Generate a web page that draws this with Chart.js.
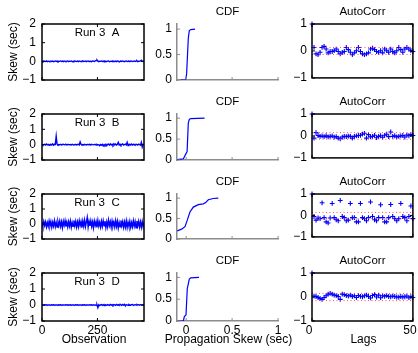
<!DOCTYPE html>
<html lang="en">
<head>
<meta charset="UTF-8">
<title>Run 3 propagation skew</title>
<script src="https://cdn.jsdelivr.net/npm/chart.js@4.4.0/dist/chart.umd.min.js"></script>
<style>
  body { margin: 0; background: #fff; }
  #fig { position: relative; width: 418px; height: 353px; overflow: hidden; }
  #fig canvas { position: absolute; }
</style>
</head>
<body>
<div id="fig"></div>
<script>
// ---- data ----
const runLabels = ['Run 3  A', 'Run 3  B', 'Run 3  C', 'Run 3  D'];

// observation numbers (every 4th sample shown)
const observations = Array.from({ length: 116 }, (_, i) => i * 4);
const obsMax = 460;

const skewA = [
  0.01,-0.02,0.02,0.00,-0.01,0.02,-0.02,0.01,0.00,-0.01,
  0.02,-0.01,0.01,-0.02,0.00,0.02,-0.01,0.01,-0.02,0.01,
  0.00,0.02,-0.01,0.01,-0.02,0.02,0.00,-0.01,0.01,0.02,
  -0.02,0.01,0.00,0.02,-0.01,-0.02,0.01,0.02,0.00,-0.01,
  0.01,-0.02,0.02,0.00,-0.01,0.01,0.03,-0.01,0.00,0.02,
  -0.02,0.01,0.02,-0.01,0.00,0.01,-0.02,0.02,0.01,-0.01,
  0.02,0.04,0.07,0.01,-0.02,0.01,0.00,0.02,-0.01,0.01,
  -0.02,0.02,0.00,-0.01,0.01,0.02,-0.02,0.00,0.01,-0.01,
  0.02,0.00,-0.01,0.01,-0.02,0.02,0.01,-0.03,0.00,0.01,
  -0.01,0.02,0.00,-0.02,0.01,0.02,-0.01,0.00,0.01,-0.02,
  0.02,0.01,-0.01,0.00,0.02,-0.01,0.01,0.03,-0.02,0.01,
  0.00,0.02,0.06,0.01,-0.01,0.02
];
const skewB = [
  0.02,-0.03,0.01,0.03,-0.02,0.04,-0.01,0.02,-0.04,0.01,
  0.03,-0.02,0.05,-0.03,0.02,0.01,0.55,0.03,-0.02,0.01,
  -0.01,0.02,-0.02,0.01,0.03,-0.01,0.00,0.02,-0.02,0.01,
  0.02,-0.01,0.01,-0.02,0.02,0.00,-0.01,0.02,0.01,-0.02,
  0.01,0.03,-0.02,0.18,0.02,-0.01,0.01,-0.03,0.02,0.00,
  -0.02,0.01,0.02,-0.01,0.01,-0.02,0.02,0.00,-0.01,0.02,
  0.01,-0.03,0.02,-0.01,0.00,-0.06,0.01,-0.04,0.02,-0.08,
  0.01,-0.05,0.03,-0.07,0.02,0.04,-0.03,0.05,-0.02,0.03,
  -0.04,0.06,-0.02,0.04,-0.03,0.02,0.15,-0.02,0.03,-0.04,
  0.02,0.05,-0.03,0.01,0.04,-0.02,0.15,-0.05,0.02,0.03,
  -0.02,0.04,-0.03,0.02,0.01,-0.04,0.03,0.02,-0.02,0.04,
  0.01,-0.03,0.15,-0.15,0.02,0.01
];
const skewC = [
  0.12,-0.15,0.18,-0.10,0.14,-0.20,0.10,-0.16,0.20,-0.12,
  0.16,-0.22,0.12,-0.14,0.22,-0.18,0.10,-0.20,0.15,-0.12,
  0.20,-0.16,0.14,-0.24,0.18,-0.10,0.22,-0.18,0.12,-0.20,
  0.16,-0.14,0.20,-0.22,0.10,-0.16,0.24,-0.12,0.18,-0.20,
  0.14,-0.18,0.22,-0.10,0.16,-0.24,0.20,-0.14,0.25,-0.18,
  0.12,0.43,-0.20,0.18,-0.12,0.22,-0.16,0.14,-0.26,0.20,
  -0.10,0.16,-0.22,0.24,-0.14,0.12,-0.20,0.18,-0.16,0.22,
  -0.12,0.20,-0.24,0.14,-0.18,0.26,-0.10,0.16,-0.22,0.20,
  -0.14,0.12,-0.20,0.22,-0.16,0.18,-0.26,0.10,-0.18,0.24,
  -0.12,0.16,-0.22,0.14,-0.20,0.20,-0.24,0.12,-0.16,0.18,
  -0.22,0.10,-0.18,0.22,-0.14,0.16,-0.26,0.20,-0.12,0.18,
  -0.20,0.14,-0.22,0.16,-0.18,0.12
];
const skewD = [
  0.01,0.00,-0.01,0.01,0.00,0.01,-0.01,0.00,0.01,0.00,
  -0.01,0.01,0.00,0.01,-0.01,0.00,0.01,0.00,-0.01,0.01,
  0.00,0.01,-0.01,0.00,0.01,0.00,-0.01,0.01,0.00,0.01,
  -0.01,0.00,0.01,-0.01,0.00,0.01,0.00,-0.01,0.01,0.00,
  0.01,-0.01,0.00,0.01,0.00,-0.01,0.01,0.00,0.01,-0.01,
  0.00,0.01,0.00,-0.01,0.01,0.00,0.01,-0.01,0.00,0.01,
  0.00,-0.02,0.01,-0.16,0.02,-0.03,0.01,0.03,-0.02,0.02,
  -0.03,0.02,0.01,-0.02,0.03,0.00,-0.02,0.04,-0.01,0.02,
  -0.03,0.03,0.01,-0.02,0.04,-0.01,0.02,-0.03,0.05,0.00,
  -0.02,0.03,-0.01,0.04,-0.06,0.02,0.01,-0.02,0.03,0.00,
  -0.01,0.02,0.03,-0.02,0.01,0.02,-0.01,0.03,0.00,0.02,
  -0.01,0.02,0.01,-0.02,0.01,0.00
];
const skewRuns = [skewA, skewB, skewC, skewD];

// empirical CDF of the skew (x = skew in sec, y = probability)
const cdfSkewA = [-0.06, -0.005, 0.005, 0.023, 0.034, 0.05, 0.096];
const cdfProbA = [0, 0, 0.13, 0.82, 0.97, 0.99, 1.0];
const cdfSkewB = [-0.1, -0.03, -0.005, 0.01, 0.023, 0.034, 0.05, 0.2];
const cdfProbB = [0.01, 0.03, 0.14, 0.2, 0.88, 0.97, 0.99, 1.0];
const cdfSkewC = [-0.097, -0.05, -0.013, 0.012, 0.041, 0.078, 0.132, 0.187, 0.212, 0.241, 0.296, 0.35];
const cdfProbC = [0.2, 0.24, 0.3, 0.46, 0.66, 0.78, 0.84, 0.86, 0.89, 0.96, 0.99, 1.0];
const cdfSkewD = [-0.097, -0.031, -0.02, -0.002, 0.012, 0.023, 0.034, 0.05, 0.14];
const cdfProbD = [0, 0, 0.1, 0.14, 0.74, 0.85, 0.96, 0.99, 1.0];
const cdfSkews = [cdfSkewA, cdfSkewB, cdfSkewC, cdfSkewD];
const cdfProbs = [cdfProbA, cdfProbB, cdfProbC, cdfProbD];

// autocorrelation, lags 0..50
const lags = Array.from({ length: 51 }, (_, i) => i);
const acA = [
  1, 0.13,-0.11,-0.14,-0.05,0.13,0.17,0.07,-0.07,-0.02,
  -0.02,0.01,0.07,-0.02,-0.11,-0.05,-0.02,0.13,0.05,-0.05,
  -0.14,-0.07,0.01,0.13,-0.02,-0.11,-0.14,-0.11,-0.07,0.07,
  0.1,0.05,-0.02,-0.05,0.01,-0.07,0.07,0.01,-0.05,0.07,
  -0.02,-0.07,0.01,0.13,0.05,-0.05,0.07,0.13,0.07,0.01,
  -0.02
];
const acB = [
  1,-0.1,0.15,0.02,-0.02,0,-0.03,0.01,-0.04,-0.02,
  0,-0.05,-0.03,-0.1,-0.13,-0.05,-0.02,-0.03,-0.01,-0.02,
  -0.1,-0.02,0,0.02,0.03,0.08,0.12,-0.1,0.06,-0.04,
  -0.02,0.03,-0.08,-0.02,0.01,-0.06,0.03,0.08,-0.03,0.18,
  -0.02,0.01,-0.04,-0.02,0,0.02,-0.05,0.04,0.01,0.06,
  0.02
];
const acC = [
  1,-0.05,-0.22,-0.12,-0.15,0.59,-0.1,-0.3,-0.35,-0.12,
  0.56,-0.1,-0.2,-0.25,0.7,-0.05,-0.1,-0.25,-0.22,0.56,
  -0.1,-0.1,-0.3,-0.3,0.56,-0.1,-0.15,-0.25,-0.1,0.63,
  -0.05,-0.2,-0.25,-0.1,0.5,-0.1,-0.3,-0.3,-0.1,0.51,
  -0.05,-0.15,-0.25,-0.15,0.56,-0.05,-0.1,-0.25,-0.05,0.44,
  -0.15
];
const acD = [
  1,0.04,0.02,-0.02,-0.06,-0.1,-0.02,0.05,0.12,0.15,
  0.12,0.08,0.06,0.02,-0.1,0.12,0.1,0.06,0.04,0.08,
  0.02,0.05,-0.02,0.06,0.03,0.01,0.05,0.08,0.02,-0.04,
  0.06,0.1,0.0,0.08,-0.03,0.05,0.03,0.06,0.02,0.01,
  0.04,0.02,0.0,-0.01,0.02,0.0,0.01,0.04,-0.03,0.01,
  -0.02
];
const acRuns = [acA, acB, acC, acD];
const acBounds = [0.13, 0.15, 0.14, 0.15];

// tick labels
const obsTicks = [0, 250];
const skewTicks = [-1, 0, 1, 2];
const cdfTicks = [0, 0.5, 1];
const lagTicks = [0, 50];
const acTicks = [-1, 0, 1];

// ---- layout of the 4x3 grid (plot areas, page px) ----
const colBox = [{ l: 42, r: 144 }, { l: 177, r: 278 }, { l: 312, r: 415 }];
const rowBox = [{ t: 24, b: 80 }, { t: 114, b: 160 }, { t: 194, b: 239 }, { t: 273, b: 321 }];

const blue = '#0000ff';
const axisGray = '#8c8c8c';
const fontFamily = '"Liberation Sans", Arial, sans-serif';

Chart.defaults.font.family = fontFamily;
Chart.defaults.font.size = 11.5;
Chart.defaults.color = '#000';
Chart.defaults.animation = false;

function addCanvas(col, row, ml, mr, mt, mb) {
  const a = colBox[col], r = rowBox[row];
  const w = a.r - a.l + ml + mr, h = r.b - r.t + mt + mb;
  const c = document.createElement('canvas');
  c.width = w; c.height = h;
  c.style.left = (a.l - ml) + 'px';
  c.style.top = (r.t - mt) + 'px';
  c.style.width = w + 'px';
  c.style.height = h + 'px';
  document.getElementById('fig').appendChild(c);
  return c;
}

const fixY = w => s => { s.width = w; s.paddingTop = 0; s.paddingBottom = 0; };
const fixX = h => s => { s.height = h; s.paddingLeft = 0; s.paddingRight = 0; };
const setTicks = vals => s => { s.ticks = vals.map(v => ({ value: v })); };
const fmt = v => String(v).replace('-', '\u2212');
const noGrid = { display: false, drawTicks: false };

// matlab style axes: box (optional) plus short ticks pointing inwards
function axesBox(color, fullBox) {
  return {
    id: 'axesBox',
    afterDraw(chart) {
      const { ctx, chartArea: a, scales } = chart;
      const len = 3;
      ctx.save();
      ctx.strokeStyle = color;
      ctx.lineWidth = 1;
      ctx.beginPath();
      scales.x.ticks.forEach(t => {
        const px = scales.x.getPixelForValue(t.value);
        ctx.moveTo(px, a.bottom); ctx.lineTo(px, a.bottom - len);
        if (fullBox) { ctx.moveTo(px, a.top); ctx.lineTo(px, a.top + len); }
      });
      scales.y.ticks.forEach(t => {
        const py = scales.y.getPixelForValue(t.value);
        ctx.moveTo(a.left, py); ctx.lineTo(a.left + len, py);
        if (fullBox) { ctx.moveTo(a.right, py); ctx.lineTo(a.right - len, py); }
      });
      ctx.stroke();
      if (fullBox) {
        ctx.lineWidth = 1.5;
        ctx.strokeRect(a.left, a.top, a.right - a.left, a.bottom - a.top);
      }
      ctx.restore();
    }
  };
}

// "Run 3  X" note inside the plot
function runLabel(text) {
  return {
    id: 'runLabel',
    afterDraw(chart) {
      const { ctx, chartArea: a } = chart;
      ctx.save();
      ctx.font = '11.5px ' + fontFamily;
      ctx.fillStyle = '#000';
      ctx.textAlign = 'center';
      ctx.textBaseline = 'middle';
      ctx.fillText(text, a.left + 55, a.top + 9);
      ctx.restore();
    }
  };
}

// axis labels without the width squeeze of scale titles
function axisLabels(xText, yText) {
  return {
    id: 'axisLabels',
    afterDraw(chart) {
      const { ctx, chartArea: a } = chart;
      ctx.save();
      ctx.font = '12px ' + fontFamily;
      ctx.fillStyle = '#000';
      ctx.textAlign = 'center';
      ctx.textBaseline = 'middle';
      if (xText) ctx.fillText(xText, (a.left + a.right) / 2 + 1, a.bottom + 19);
      if (yText) {
        ctx.translate(a.left - 28, (a.top + a.bottom) / 2);
        ctx.rotate(-Math.PI / 2);
        ctx.fillText(yText, 0, 0);
      }
      ctx.restore();
    }
  };
}

function baseOptions(padTop, padRight) {
  return {
    responsive: false,
    devicePixelRatio: 1,
    events: [],
    layout: { padding: { left: 0, right: padRight, top: padTop, bottom: 0 } },
    plugins: { legend: { display: false }, tooltip: { enabled: false } }
  };
}

function plotTitle(text) {
  return {
    display: true, text: text, fullSize: false,
    font: { size: 11.5, weight: 'normal', lineHeight: '13px' },
    padding: { top: 0, bottom: 6 }
  };
}

function xTicks(show, extra) {
  return Object.assign({ display: show, padding: 2, font: { size: 12 }, maxRotation: 0, autoSkip: false, callback: fmt }, extra || {});
}
function yTicks(pad) {
  return { padding: pad, font: { size: 12 }, autoSkip: false, callback: fmt };
}

function tsChart(row) {
  const last = row === 3, mb = last ? 32 : 14, mt = 16;
  const canvas = addCanvas(0, row, 40, 4, mt, mb);
  const opts = baseOptions(mt, 4);
  opts.scales = {
    x: {
      type: 'linear', min: 0, max: obsMax,
      afterBuildTicks: setTicks(obsTicks), afterFit: fixX(mb),
      grid: noGrid, border: { display: false },
      ticks: xTicks(last)
    },
    y: {
      min: -1, max: 2,
      afterBuildTicks: setTicks(skewTicks), afterFit: fixY(40),
      grid: noGrid, border: { display: false },
      ticks: yTicks(6)
    }
  };
  new Chart(canvas, {
    type: 'line',
    data: {
      datasets: [{
        data: skewRuns[row].map((v, i) => ({ x: observations[i], y: v })),
        borderColor: blue, borderWidth: 1.4, pointRadius: 0, tension: 0
      }]
    },
    options: opts,
    plugins: [axesBox('#000', true), runLabel(runLabels[row]), axisLabels(last ? 'Observation' : '', 'Skew (sec)')]
  });
}

function cdfChart(row) {
  const last = row === 3, mb = last ? 32 : 3;
  const canvas = addCanvas(1, row, 30, 16, 19, mb);
  const opts = baseOptions(0, 16);
  opts.plugins.title = plotTitle('CDF');
  opts.scales = {
    x: {
      type: 'linear', min: -0.1, max: 1,
      afterBuildTicks: setTicks(cdfTicks), afterFit: fixX(mb),
      grid: noGrid, border: { color: axisGray, width: 1.5 },
      ticks: xTicks(last)
    },
    y: {
      min: 0, max: 1.1,
      afterBuildTicks: setTicks(cdfTicks), afterFit: fixY(30),
      grid: noGrid, border: { color: axisGray, width: 1.5 },
      ticks: yTicks(5)
    }
  };
  new Chart(canvas, {
    type: 'line',
    data: {
      datasets: [{
        data: cdfSkews[row].map((v, i) => ({ x: v, y: cdfProbs[row][i] })),
        borderColor: blue, borderWidth: 1.2, pointRadius: 0, tension: 0
      }]
    },
    options: opts,
    plugins: [axesBox(axisGray, false), axisLabels(last ? 'Propagation Skew (sec)' : '', '')]
  });
}

function acChart(row) {
  const last = row === 3, mb = last ? 32 : 3;
  const canvas = addCanvas(2, row, 30, 3, 19, mb);
  const opts = baseOptions(0, 3);
  opts.plugins.title = plotTitle('AutoCorr');
  opts.scales = {
    x: {
      type: 'linear', min: 0, max: 50,
      afterBuildTicks: setTicks(lagTicks), afterFit: fixX(mb),
      grid: noGrid, border: { display: false },
      ticks: xTicks(last, { labelOffset: -3 })
    },
    y: {
      min: -1, max: 1,
      afterBuildTicks: setTicks(acTicks), afterFit: fixY(30),
      grid: noGrid, border: { display: false },
      ticks: yTicks(5)
    }
  };
  const b = acBounds[row];
  const bound = y => ({
    data: [{ x: lags[0], y: y }, { x: lags[lags.length - 1], y: y }],
    borderColor: 'rgba(255,60,60,0.9)', borderWidth: 1, borderDash: [1, 2.5],
    pointRadius: 0
  });
  new Chart(canvas, {
    type: 'line',
    data: {
      datasets: [
        bound(b), bound(-b),
        {
          data: acRuns[row].map((v, i) => ({ x: lags[i], y: v })),
          showLine: false, pointStyle: 'cross', pointRadius: 2.4,
          pointBorderColor: blue, pointBorderWidth: 1.1, borderColor: blue,
          clip: false
        }
      ]
    },
    options: opts,
    plugins: [axesBox('#000', true), axisLabels(last ? 'Lags' : '', '')]
  });
}

for (let row = 0; row < 4; row++) {
  tsChart(row);
  cdfChart(row);
  acChart(row);
}
</script>
</body>
</html>
